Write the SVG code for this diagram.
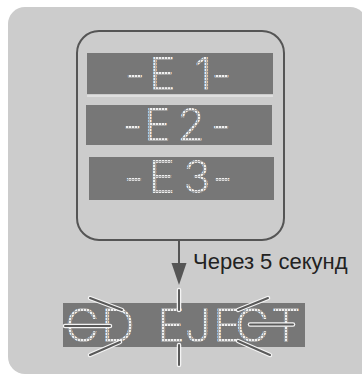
<svg xmlns="http://www.w3.org/2000/svg" width="362" height="374" viewBox="0 0 362 374">
<style>
.lcd{fill:#777777}
.seg{font-family:Inter,"DejaVu Sans",sans-serif;font-weight:300;fill:url(#dots);text-anchor:middle}
.lbl{font-family:"Liberation Sans",Arial,sans-serif;font-size:22px;fill:#222222}
.fo{stroke:#f4f4f4;stroke-width:4.5;stroke-linecap:round;fill:none}
.fi{stroke:#5a5a5a;stroke-width:2;stroke-linecap:round;fill:none}
.conn{stroke:#555555;stroke-width:2;fill:none}
</style>
<defs>
<pattern id="dots" width="3" height="3" patternUnits="userSpaceOnUse">
<rect width="3" height="3" fill="#a6a6a6"/>
<rect width="2" height="2" fill="#efefef"/>
</pattern>
</defs>
<rect width="362" height="374" fill="#ffffff"/>
<path d="M25,7 H350 A17,17 0 0 1 367,24 V374 H25 A17,17 0 0 1 8,357 V24 A17,17 0 0 1 25,7 Z" fill="#cccccc"/>
<g id="errors">
<rect x="77" y="31" width="207" height="209" rx="22" fill="none" stroke="#555555" stroke-width="2"/>
<g id="lcd-e1">
<rect class="lcd" x="87" y="53" width="186" height="41"/>
<line x1="87" y1="96" x2="273" y2="96" stroke="#f2f2f2" stroke-width="1.2"/>
<text class="seg" font-size="45" x="135 162.5 185 203 221.5" y="90">-E 1-</text>
</g>
<g id="lcd-e2">
<rect class="lcd" x="86" y="105" width="186" height="40"/>
<text class="seg" font-size="45" x="132.5 157.5 191 221" y="141">-E2-</text>
</g>
<g id="lcd-e3">
<rect class="lcd" x="89" y="157" width="185" height="43"/>
<text class="seg" font-size="45" x="134 162 197 222.5" y="193">-E3-</text>
</g>
</g>
<g id="connectors">
<line class="conn" x1="179" y1="241" x2="179" y2="266"/>
<path d="M171.5,263 L186.5,263 L179,285 Z" fill="#555555"/>
<text class="lbl" x="193" y="269">Через 5 секунд</text>
</g>
<g id="eject">
<rect class="lcd" x="63" y="303" width="242" height="44"/>
<text class="seg" font-size="47" x="82 118 140 171 198 227 252 286" y="342">CD EJECT</text>
<g id="flash">
<line class="fo" x1="179" y1="290" x2="179" y2="310"/><line class="fi" x1="179" y1="290" x2="179" y2="310"/>
<line class="fo" x1="179" y1="345" x2="179" y2="365"/><line class="fi" x1="179" y1="345" x2="179" y2="365"/>
<line class="fo" x1="90" y1="298" x2="122" y2="310"/><line class="fi" x1="90" y1="298" x2="122" y2="310"/>
<line class="fo" x1="90" y1="355" x2="120" y2="342"/><line class="fi" x1="90" y1="355" x2="120" y2="342"/>
<line class="fo" x1="65" y1="326" x2="110" y2="326"/><line class="fi" x1="65" y1="326" x2="110" y2="326"/>
<line class="fo" x1="268" y1="298" x2="238" y2="310"/><line class="fi" x1="268" y1="298" x2="238" y2="310"/>
<line class="fo" x1="238" y1="341" x2="270" y2="355"/><line class="fi" x1="238" y1="341" x2="270" y2="355"/>
<line class="fo" x1="250" y1="324.5" x2="293" y2="324.5"/><line class="fi" x1="250" y1="324.5" x2="293" y2="324.5"/>
</g>
</g>
</svg>
